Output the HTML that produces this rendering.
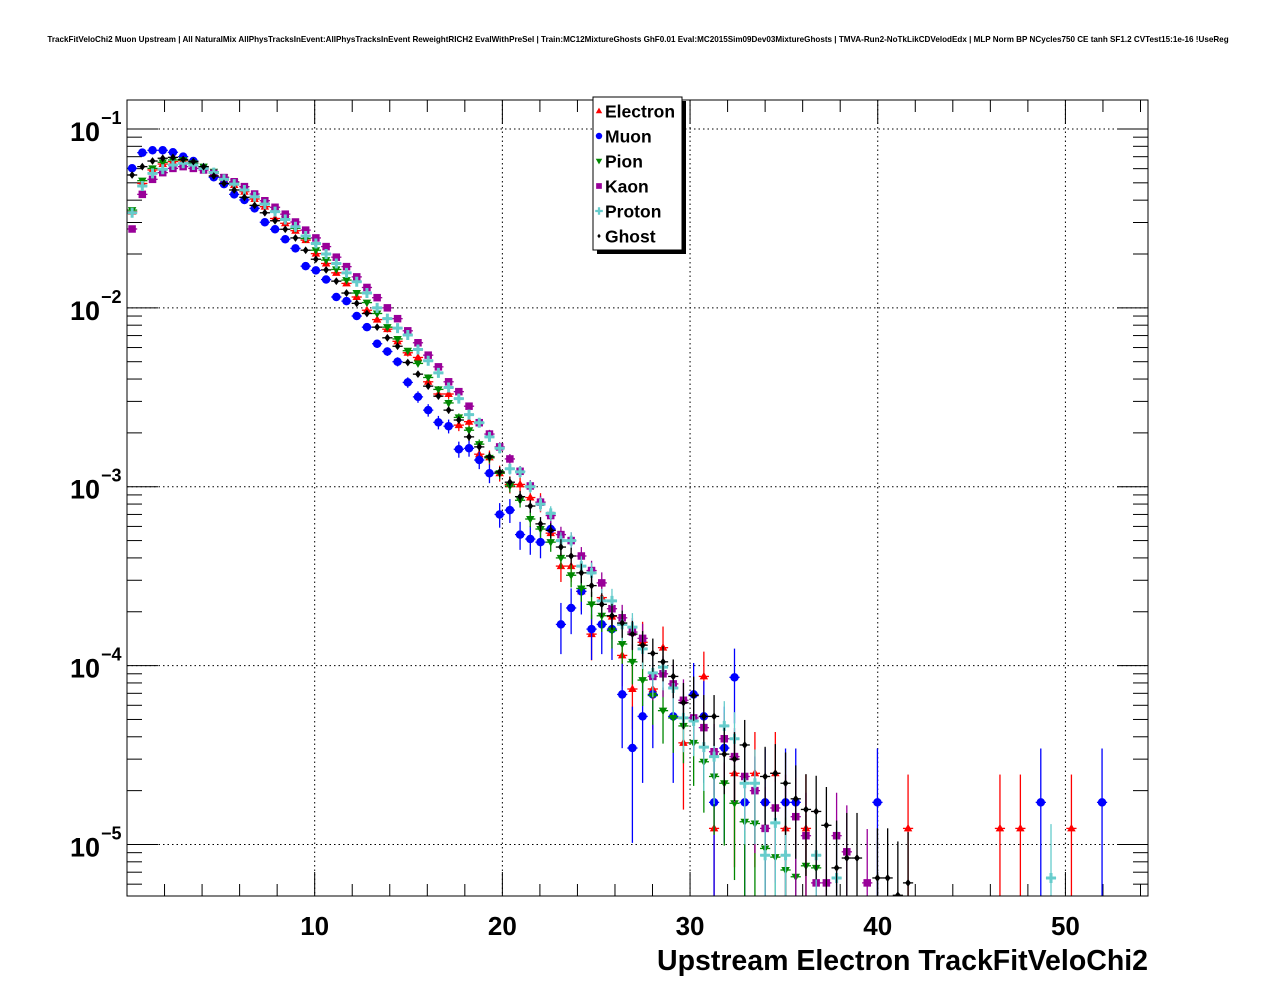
<!DOCTYPE html>
<html><head><meta charset="utf-8">
<style>
html,body{margin:0;padding:0;background:#fff;}
svg{display:block;font-family:"Liberation Sans",Arial,sans-serif;}
</style></head>
<body>
<svg id="chart" width="1276" height="996" viewBox="0 0 1276 996" xmlns="http://www.w3.org/2000/svg">
<rect x="0" y="0" width="1276" height="996" fill="#fff"/>
<text x="638" y="42" font-size="8.1" font-weight="bold" text-anchor="middle">TrackFitVeloChi2 Muon Upstream | All NaturalMix AllPhysTracksInEvent:AllPhysTracksInEvent ReweightRICH2 EvalWithPreSel | Train:MC12MixtureGhosts GhF0.01 Eval:MC2015Sim09Dev03MixtureGhosts | TMVA-Run2-NoTkLikCDVelodEdx | MLP Norm BP NCycles750 CE tanh SF1.2 CVTest15:1e-16 !UseReg</text>
<g id="grid"></g>
<g id="axes"></g>
<defs><clipPath id="plotclip"><rect x="127" y="100" width="1021" height="796"/></clipPath></defs>
<g id="series" clip-path="url(#plotclip)"></g>
<rect x="127" y="100" width="1021" height="796" fill="none" stroke="#000" stroke-width="1"/>
<text x="1148" y="970" font-size="28.5" font-weight="bold" text-anchor="end">Upstream Electron TrackFitVeloChi2</text>
<g id="legend">
<rect x="597" y="101" width="89" height="153" fill="#000"/>
<rect x="593" y="97" width="89" height="153" fill="#fff" stroke="#000" stroke-width="1"/>
</g>
</svg>
<script>
// ---- data (bin width = 54.4/100, bins start at 0) ----
const xMin = 0, xMax = 54.4, nBins = 100;
const xTicks = [10, 20, 30, 40, 50];
const xTickLabels = ["10", "20", "30", "40", "50"];
const yDecades = [-1, -2, -3, -4, -5];
const seriesNames = ["Electron", "Muon", "Pion", "Kaon", "Proton", "Ghost"];

const electron = [0.0345,0.0496,0.0590,0.0637,0.0657,0.0665,0.0643,0.0611,0.0570,0.0523,0.0486,0.0446,0.0406,0.0368,0.0316,0.0297,0.0270,0.0239,0.0201,0.0177,0.0157,0.0137,0.0115,0.0097,0.0086,0.0076,0.0065,
0.00561,0.00528,0.00386,0.00330,0.00330,0.00221,0.00231,0.00152,0.00146,0.00119,0.00103,0.00103,0.00087,0.00082,0.00055,0.00036,0.00036,0.00026,0.00015,0.00024,
1.88e-4,1.14e-4,7.4e-5,1.35e-4,7.4e-5,1.26e-4,0,3.7e-5,0,8.7e-5,1.23e-5,0,2.5e-5,0,2.5e-5,0,2.5e-5,1.23e-5,0,1.23e-5,
0,0,0,0,0,0,0,0,0,1.23e-5,0,0,0,0,0,0,0,0,1.23e-5,0,1.23e-5,0,0,0,0,1.23e-5,0,0,0,0,0,0,0];
const muon = [0.0603,0.0737,0.0760,0.0760,0.0741,0.0700,0.0662,0.0605,0.0537,0.0492,0.0431,0.0401,0.0360,0.0301,0.0275,0.0242,0.0215,0.0171,0.0162,0.0144,0.0115,0.0109,0.0090,0.0078,0.0063,0.0057,0.0050,
0.00383,0.00318,0.00268,0.00229,0.00218,0.00162,0.00164,0.00141,0.00119,0.00070,0.00074,0.00054,0.00051,0.00049,0.00058,0.00017,0.00021,0.00026,0.00016,0.00017,0.00016,
6.9e-5,3.46e-5,5.2e-5,6.9e-5,0,5.2e-5,0,6.9e-5,5.2e-5,1.72e-5,3.46e-5,8.6e-5,1.72e-5,0,1.72e-5,0,1.72e-5,1.72e-5,
0,0,0,0,0,0,0,1.72e-5,0,0,0,0,0,0,0,0,0,0,0,0,0,0,0,1.72e-5,0,0,0,0,0,1.72e-5,0,0,0,0];
const pion = [0.0352,0.0514,0.0602,0.0651,0.0671,0.0671,0.0643,0.0616,0.0577,0.0537,0.0501,0.0456,0.0418,0.0384,0.0345,0.0312,0.0278,0.0244,0.0210,0.0185,0.0164,0.0143,0.0121,0.0107,0.0093,0.0078,0.0067,
0.00576,0.00489,0.00408,0.00350,0.00294,0.00244,0.00207,0.00173,0.00145,0.00119,0.00101,0.00084,0.00066,0.00058,0.00049,0.00040,0.00032,0.00027,0.00022,0.00019,
1.57e-4,1.32e-4,1.05e-4,8.3e-5,6.8e-5,5.6e-5,5.1e-5,4.6e-5,3.7e-5,2.9e-5,2.4e-5,2.2e-5,1.7e-5,1.34e-5,1.31e-5,9.5e-6,8.5e-6,7.2e-6,6.6e-6,7.6e-6,7.4e-6,
0,0,0,0,0,0,0,0,0,0,0,0,0,0,0,0,0,0,0,0,0,0,0,0,0,0,0,0,0,0,0,0,0];
const kaon = [0.0276,0.0431,0.0523,0.0570,0.0602,0.0616,0.0602,0.0590,0.0565,0.0535,0.0507,0.0476,0.0433,0.0397,0.0365,0.0334,0.0302,0.0272,0.0246,0.0220,0.0192,0.0170,0.0149,0.0130,0.0114,0.0100,0.0087,
0.00744,0.00638,0.00544,0.00468,0.00386,0.00340,0.00282,0.00228,0.00197,0.00167,0.00143,0.00122,0.00101,0.00082,0.00069,0.00054,0.00050,0.00041,0.00034,0.00029,
2.08e-4,1.85e-4,1.54e-4,1.42e-4,8.7e-5,9.0e-5,7.9e-5,6.4e-5,5.1e-5,4.5e-5,3.3e-5,3.9e-5,3.1e-5,2.4e-5,2.0e-5,1.23e-5,1.6e-5,0,1.43e-5,1.12e-5,6.1e-6,6.1e-6,1.12e-5,9.1e-6,0,6.1e-6,
0,0,0,0,0,0,0,0,0,0,0,0,0,0,0,0,0,0,0,0,0,0,0,0,0,0,0,0];
const proton = [0.0340,0.0480,0.0565,0.0595,0.0629,0.0643,0.0629,0.0602,0.0570,0.0523,0.0492,0.0456,0.0418,0.0380,0.0345,0.0312,0.0284,0.0252,0.0229,0.0200,0.0177,0.0157,0.0140,0.0121,0.0100,0.0087,0.0077,
0.00705,0.00585,0.00506,0.00433,0.00359,0.00311,0.00253,0.00228,0.00190,0.00164,0.00126,0.00121,0.00100,0.00080,0.00071,0.00050,0.00050,0.00036,0.00033,0.00023,
0.00023,1.7e-4,1.64e-4,1.24e-4,9.1e-5,9.8e-5,7.5e-5,5.1e-5,4.9e-5,3.5e-5,3.1e-5,4.6e-5,3.9e-5,2.2e-5,2.2e-5,8.7e-6,1.32e-5,8.7e-6,0,0,8.7e-6,0,6.5e-6,
0,0,0,0,0,0,0,0,0,0,0,0,0,0,0,0,0,0,0,0,6.5e-6,0,0,0,0,0,0,0,0,0];
const ghost = [0.0553,0.0616,0.0662,0.0686,0.0694,0.0676,0.0657,0.0616,0.0546,0.0496,0.0456,0.0415,0.0374,0.0340,0.0307,0.0275,0.0246,0.0210,0.0187,0.0163,0.0141,0.0121,0.0106,0.0093,0.0078,0.0068,0.0061,
0.00495,0.00426,0.00365,0.00321,0.00268,0.00236,0.00190,0.00167,0.00147,0.00121,0.00106,0.00088,0.00078,0.00062,0.00057,0.00046,0.00041,0.00033,0.00028,0.00022,
0.00019,1.73e-4,1.5e-4,1.3e-4,1.17e-4,1.05e-4,8.7e-5,6.2e-5,6.8e-5,5.2e-5,5.2e-5,3.2e-5,3.0e-5,3.6e-5,0,2.4e-5,2.5e-5,2.2e-5,1.8e-5,1.57e-5,1.53e-5,1.28e-5,7.4e-6,8.4e-6,8.4e-6,0,6.5e-6,6.5e-6,5.2e-6,6.1e-6,
0,0,0,0,0,0,0,0,0,0,0,0,0,0,0,0,0,0,0,0,0,0,0,0];
// unit weight per entry (used for Poisson error bars)
const unitWeights = [1.23e-5, 1.72e-5, 6.7e-6, 6.1e-6, 6.5e-6, 5.2e-6];

// ---- geometry ----
const L = 127, R = 1148, T = 100, B = 896;
const yLogTop = -0.838, yLogBot = -5.288;
const NS = "http://www.w3.org/2000/svg";
function X(v){ return L + (v - xMin) / (xMax - xMin) * (R - L); }
function Y(v){ const lg = Math.log10(v); return T + (yLogTop - lg) / (yLogTop - yLogBot) * (B - T); }
function mk(tag, attrs, parent){ const e = document.createElementNS(NS, tag); for (const k in attrs) e.setAttribute(k, attrs[k]); parent.appendChild(e); return e; }

const grid = document.getElementById('grid');
const axes = document.getElementById('axes');
const series = document.getElementById('series');
const legend = document.getElementById('legend');

xTicks.forEach(t => {
  const g = mk('line', {x1:X(t), x2:X(t), y1:T, y2:B, stroke:'#000', 'stroke-width':1, 'stroke-dasharray':'1.5,3'}, grid);
  
  
});
yDecades.forEach(d => {
  const g = mk('line', {x1:L, x2:R, y1:Y(Math.pow(10,d)), y2:Y(Math.pow(10,d)), stroke:'#000', 'stroke-width':1, 'stroke-dasharray':'1.5,3'}, grid);
  
  
});

for (let v = 2; v < xMax; v += 2) {
  const major = (v % 10 === 0);
  const len = major ? 24 : 12;
  const t1 = mk('line', {x1:X(v), x2:X(v), y1:B, y2:B-len, stroke:'#000', 'stroke-width':1}, axes);
  
  
  const t2 = mk('line', {x1:X(v), x2:X(v), y1:T, y2:T+len, stroke:'#000', 'stroke-width':1}, axes);
  
  
}
xTicks.forEach((t, i) => {
  const tx = mk('text', {x:X(t), y:935, 'font-size':26, 'font-weight':'bold', 'text-anchor':'middle'}, axes);
  tx.textContent = xTickLabels[i];
  
  
});

for (let d = -6; d <= -1; d++) {
  for (let m = 1; m <= 9; m++) {
    const v = m * Math.pow(10, d);
    const yy = Y(v);
    if (yy < T || yy > B) continue;
    const len = (m === 1) ? 31 : 15;
    const t1 = mk('line', {x1:L, x2:L+len, y1:yy, y2:yy, stroke:'#000', 'stroke-width':1}, axes);
    
    
    const t2 = mk('line', {x1:R, x2:R-len, y1:yy, y2:yy, stroke:'#000', 'stroke-width':1}, axes);
    
    
  }
}
yDecades.forEach(d => {
  const yy = Y(Math.pow(10, d));
  const tx = mk('text', {x:100, y:yy+12, 'font-size':27, 'font-weight':'bold', 'text-anchor':'end'}, axes);
  tx.textContent = '10';
  
  
  const sp = mk('text', {x:101, y:yy-5, 'font-size':18, 'font-weight':'bold', 'text-anchor':'start'}, axes);
  sp.textContent = '\u2212' + (-d);
  
  
});

const colors = ['#ff0000', '#0000ff', '#008800', '#990099', '#66cccc', '#000000'];
function marker(kind, cx, cy, s, color, parent){
  let e;
  if (kind === 0) e = mk('polygon', {points:`${cx},${cy-s*0.9} ${cx-s*0.85},${cy+s*0.6} ${cx+s*0.85},${cy+s*0.6}`, fill:color}, parent);
  else if (kind === 1) e = mk('circle', {cx:cx, cy:cy, r:s*0.85, fill:color}, parent);
  else if (kind === 2) e = mk('polygon', {points:`${cx},${cy+s*0.9} ${cx-s*0.85},${cy-s*0.6} ${cx+s*0.85},${cy-s*0.6}`, fill:color}, parent);
  else if (kind === 3) e = mk('rect', {x:cx-s*0.75, y:cy-s*0.75, width:s*1.5, height:s*1.5, fill:color}, parent);
  else if (kind === 4) e = mk('path', {d:`M${cx-s*0.3},${cy-s} h${s*0.6} v${s*0.7} h${s*0.7} v${s*0.6} h${-s*0.7} v${s*0.7} h${-s*0.6} v${-s*0.7} h${-s*0.7} v${-s*0.6} h${s*0.7} z`, fill:color}, parent);
  else e = mk('polygon', {points:`${cx},${cy-s*0.6} ${cx+s*0.45},${cy} ${cx},${cy+s*0.6} ${cx-s*0.45},${cy}`, fill:color}, parent);
  return e;
}
const allSeries = [electron, muon, pion, kaon, proton, ghost];
const sizes = [5, 5, 5, 5, 5, 6.5];
const halfW = (xMax - xMin) / nBins / 2;
allSeries.forEach((vals, si) => {
  const g = mk('g', {}, series);
  
  
  vals.forEach((v, i) => {
    if (!(v > 0)) return;
    const xc = xMin + (i + 0.5) * 2 * halfW;
    const cx = X(xc), cy = Y(v);
    const err = Math.sqrt(v * unitWeights[si]);
    const lo = v - err;
    const yLo = lo > 0 ? Math.min(Y(lo), B + 5) : B + 5;
    const yHi = Y(v + err);
    const ev = mk('line', {x1:cx, x2:cx, y1:yHi, y2:yLo, stroke:colors[si], 'stroke-width':1.3}, g);
    
    
    const eh = mk('line', {x1:X(xc-halfW), x2:X(xc+halfW), y1:cy, y2:cy, stroke:colors[si], 'stroke-width':1.3}, g);
    
    
    const m = marker(si, cx, cy, sizes[si], colors[si], g);
    
    
  });
});

seriesNames.forEach((n, i) => {
  const yy = 111 + i * 25;
  const m = marker(i, 599, yy, 3.8, colors[i], legend);
  
  
  const t = mk('text', {x:605, y:yy+6.5, 'font-size':17.5, 'font-weight':'bold'}, legend);
  t.textContent = n;
  
  
});
</script>
</body></html>
